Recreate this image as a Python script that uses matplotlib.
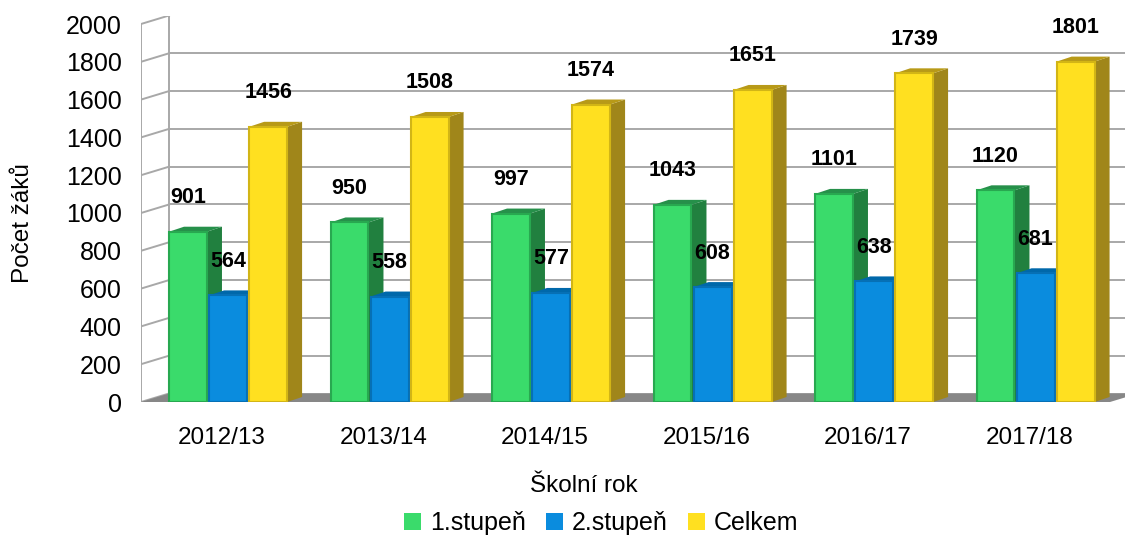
import numpy as np
import matplotlib
matplotlib.use("Agg")
import matplotlib.pyplot as plt
from matplotlib.patches import Polygon, Patch

plt.rcParams['font.family'] = ['Liberation Sans', 'DejaVu Sans']

# data
years = ['2012/13', '2013/14', '2014/15', '2015/16', '2016/17', '2017/18']
stupen1 = [901, 950, 997, 1043, 1101, 1120]
stupen2 = [564, 558, 577, 608, 638, 681]
celkem = [1456, 1508, 1574, 1651, 1739, 1801]
series = [stupen1, stupen2, celkem]
names = ['1.stupeň', '2.stupeň', 'Celkem']
yticks = [0, 200, 400, 600, 800, 1000, 1200, 1400, 1600, 1800, 2000]

# front / side / top / edge colours
front = ['#3ADB6B', '#0A8CDE', '#FFE020']
side = ['#21803F', '#005C9A', '#A0861A']
top = ['#26904A', '#0068AA', '#B89A18']
edge = ['#28A850', '#0670B5', '#D2B516']

W, H = 1125, 536
fig = plt.figure(figsize=(W / 100, H / 100), dpi=100)

# pixel geometry of the plot
x_left, x_right = 141, 1125
y_zero, y_top = 402, 16
px_x = 161.5              # px per category
px_y = (402 - 24) / 2000  # px per value unit
ax = fig.add_axes([x_left / W, (H - y_zero) / H, (x_right - x_left) / W, (y_zero - y_top) / H])
ax.set_xlim(-0.5, -0.5 + (x_right - x_left) / px_x)
ax.set_ylim(0, (y_zero - y_top) / px_y)
for s in ax.spines.values():
    s.set_visible(False)

DX, DY = 28 / px_x, 8.5 / px_y      # wall depth
BX, BY = 15 / px_x, 5 / px_y        # bar depth
x0w = -0.5
xend = ax.get_xlim()[1]
grid_c = '#a8a8a8'

# walls
for v in yticks:
    ax.plot([x0w + DX, xend], [v + DY, v + DY], color=grid_c, lw=1.4, zorder=1, solid_capstyle='butt')
    ax.plot([x0w, x0w + DX], [v, v + DY], color=grid_c, lw=1.4, zorder=1)
ax.plot([x0w, x0w], [0, yticks[-1]], color=grid_c, lw=1.4, zorder=1)
ax.plot([x0w + DX, x0w + DX], [DY, yticks[-1] + DY], color=grid_c, lw=1.4, zorder=1)

# floor
nx = len(years)
floor = Polygon([(x0w, 0), (x0w + nx, 0), (x0w + nx + DX, DY), (x0w + DX, DY)],
                closed=True, facecolor='#878787', edgecolor='none', zorder=2)
ax.add_patch(floor)

# bars: side + top faces, then the front face
bw = 0.235
offsets = [-0.248 + 0.039, 0.039, 0.248 + 0.039]
x = np.arange(nx)
z = 3
for i in range(nx):
    for k, vals in enumerate(series):
        v = vals[i]
        xc = x[i] + offsets[k]
        a, b = xc - bw / 2, xc + bw / 2
        ax.add_patch(Polygon([(b, 0), (b + BX, BY), (b + BX, v + BY), (b, v)], closed=True,
                             facecolor=side[k], edgecolor='none', zorder=z))
        ax.add_patch(Polygon([(a, v), (b, v), (b + BX, v + BY), (a + BX, v + BY)], closed=True,
                             facecolor=top[k], edgecolor='none', zorder=z))
        ax.bar(xc, v, width=bw, color=front[k], edgecolor=edge[k], linewidth=1.5, zorder=z + 1)
        ax.text(xc, v + 180, str(v), ha='center', va='center', fontsize=15.5,
                fontweight='bold', zorder=50)
        z += 2

ax.set_xticks(x)
ax.set_xticklabels(years, fontsize=17.5)
ax.set_yticks(yticks)
ax.set_yticklabels([str(t) for t in yticks], fontsize=18)
ax.tick_params(axis='x', length=0, pad=18)
ax.tick_params(axis='y', length=0, pad=14)

fig.text(23 / W, 1 - 223 / H, 'Počet žáků', rotation=90, ha='center', va='center', fontsize=17.5)
fig.text(584 / W, 1 - 486 / H, 'Školní rok', ha='center', va='center', fontsize=17.5)

handles = [Patch(facecolor=front[k], edgecolor='none', label=names[k]) for k in range(3)]
fig.legend(handles=handles, loc='center', bbox_to_anchor=(601 / W, 1 - 523 / H), ncol=3,
           frameon=False, fontsize=18, handlelength=0.7, handleheight=0.7,
           handletextpad=0.35, columnspacing=0.8, borderpad=0)

fig.savefig('out.png', dpi=100)
